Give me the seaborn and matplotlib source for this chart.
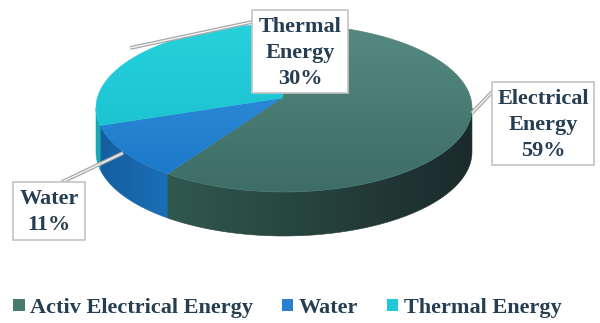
import numpy as np
import matplotlib
matplotlib.use("Agg")
import matplotlib.pyplot as plt
import matplotlib.patheffects as pe
import seaborn as sns
from matplotlib.patches import Polygon, Rectangle, Patch
from matplotlib.colors import to_rgb

# ---------------- data ----------------
categories = ["Electrical Energy", "Water", "Thermal Energy"]
legend_labels = ["Activ Electrical Energy", "Water", "Thermal Energy"]
values = [59, 11, 30]
label_lines = [["Electrical", "Energy"], ["Water"], ["Thermal", "Energy"]]

# ---------------- styles ----------------
top_colors_hi = ["#568a80", "#2b88d6", "#27d2dc"]
top_colors_lo = ["#3d6d65", "#1c79c9", "#1cc4d1"]
side_left = ["#30594f", "#155e9f", "#1aa8b4"]
side_right = ["#1b2a2a", "#1b6fb8", "#1aa8b4"]
legend_colors = ["#4a7a70", "#2a80d0", "#22c8d8"]
text_color = "#263d52"

sns.set_theme(style="white")
plt.rcParams['font.family'] = ['Liberation Serif', 'DejaVu Serif']

fig = plt.figure(figsize=(6, 3.23), dpi=100)
ax = fig.add_axes([0, 0, 1, 1])
ax.set_xlim(0, 600)
ax.set_ylim(323, 0)
ax.axis('off')

cx, cy, a, b, depth = 284, 108, 188, 84, 44
apex = (282, 98)
start = 6

fracs = np.array(values) / np.sum(values)
bounds = start + 360 * np.concatenate([[0], np.cumsum(fracs)])


def pt(theta, dy=0.0):
    t = np.radians(theta)
    return cx + a * np.sin(t), cy - b * np.cos(t) + dy


def gradient_fill(poly_xy, c0, c1, horizontal=True, z=1):
    poly = Polygon(poly_xy, closed=True, facecolor='none', edgecolor='none',
                   transform=ax.transData)
    ax.add_patch(poly)
    xs = np.array([p[0] for p in poly_xy])
    ys = np.array([p[1] for p in poly_xy])
    x0, x1 = xs.min() - 1, xs.max() + 1
    y0, y1 = ys.min() - 1, ys.max() + 1
    n = 200
    t = np.linspace(0, 1, n)
    c0 = np.array(to_rgb(c0)); c1 = np.array(to_rgb(c1))
    cols = c0[None, :] * (1 - t[:, None]) + c1[None, :] * t[:, None]
    if horizontal:
        img = cols[None, :, :]
    else:
        img = cols[:, None, :]
    im = ax.imshow(img, extent=(x0, x1, y1, y0), aspect='auto',
                   interpolation='bilinear', zorder=z, origin='upper')
    im.set_clip_path(poly)
    # thin solid edge to avoid hairline gaps
    ax.add_patch(Polygon(poly_xy, closed=True, facecolor='none',
                         edgecolor=tuple((c0 + c1) / 2), lw=0.4, zorder=z))


# sides (front half: 90..270 degrees)
for i in range(len(values)):
    t0, t1 = bounds[i], bounds[i + 1]
    segs = []
    for off in (0, 360):
        s0 = max(t0 - off, 90); s1 = min(t1 - off, 270)
        if s1 > s0:
            segs.append((s0, s1))
    for s0, s1 in segs:
        th = np.linspace(s0, s1, 80)
        top = [pt(t) for t in th]
        bot = [pt(t, depth) for t in th[::-1]]
        gradient_fill(top + bot, side_left[i], side_right[i], True, z=1)

# top faces
for i in range(len(values)):
    th = np.linspace(bounds[i], bounds[i + 1], 150)
    poly = [apex] + [pt(t) for t in th]
    gradient_fill(poly, top_colors_hi[i], top_colors_lo[i], False, z=2)

# leader lines and label boxes
leaders = [((472, 113), (492, 92)), ((123, 153), (62, 182)), ((130, 48), (252, 22))]
boxes = [(492, 82, 102, 83), (13, 182, 72, 58), (252, 10, 96, 83)]
lead_fx = [pe.Stroke(linewidth=2.8, foreground="#a9a9a9"), pe.Normal()]
for i in range(len(values)):
    (x0, y0), (x1, y1) = leaders[i]
    ax.plot([x0, x1], [y0, y1], color="#f2f2f2", lw=1.0, zorder=3,
            path_effects=lead_fx, solid_capstyle='butt')
    bx, by, bw, bh = boxes[i]
    ax.add_patch(Rectangle((bx, by), bw, bh, facecolor='white',
                           edgecolor='#c4c4c4', lw=1.2, zorder=4))
    lines = label_lines[i] + [f"{round(fracs[i] * 100):d}%"]
    n = len(lines)
    yc = by + bh / 2 + 1.5
    for k, s in enumerate(lines):
        ax.text(bx + bw / 2, yc + (k - (n - 1) / 2) * 26, s, ha='center', va='center',
                fontsize=16, fontweight='bold', color=text_color, zorder=5)

# legend
handles = [Patch(facecolor=c, edgecolor='none') for c in legend_colors]
fig.legend(handles, legend_labels, loc='center', bbox_to_anchor=(0.479, 1 - 308 / 323),
           ncol=3, frameon=False, handlelength=0.5, handleheight=0.5,
           handletextpad=0.25, columnspacing=1.3,
           prop=dict(weight='bold', size=16), labelcolor=text_color)

fig.savefig("out.png", dpi=100)
